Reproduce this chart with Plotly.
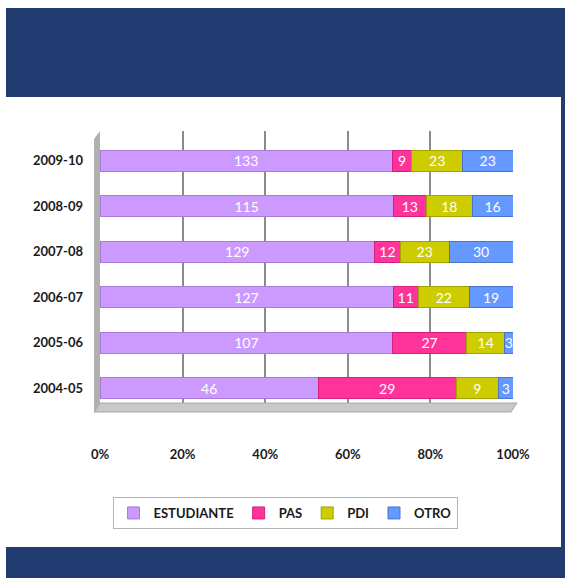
import plotly.graph_objects as go

years = ["2004-05", "2005-06", "2006-07", "2007-08", "2008-09", "2009-10"]
estudiante = [46, 107, 127, 129, 115, 133]
pas = [29, 27, 11, 12, 13, 9]
pdi = [9, 14, 22, 23, 18, 23]
otro = [3, 3, 19, 30, 16, 23]
series_names = ["ESTUDIANTE", "PAS", "PDI", "OTRO"]
x_ticks = [0, 20, 40, 60, 80, 100]
x_tick_labels = ["0%", "20%", "40%", "60%", "80%", "100%"]

colors = ["#cc99ff", "#ff3399", "#cccc00", "#6699ff"]
edge = ["#a97ad6", "#d4207c", "#a3a300", "#4a74cc"]
FONT = "Lato, Roboto, sans-serif"

fig = go.Figure()
for name, vals, c, e in zip(series_names, [estudiante, pas, pdi, otro], colors, edge):
    fig.add_trace(go.Bar(
        y=years, x=vals, name=name, orientation="h",
        marker=dict(color=c, line=dict(color=e, width=1)),
        text=[str(v) for v in vals], textposition="inside",
        insidetextanchor="middle", textangle=0, constraintext="none",
        textfont=dict(color="white", size=14, family=FONT),
        width=0.46,
    ))

W, H = 565, 578
BLUE = "#223c71"
PL, PR, PT, PB = 100, 513, 131, 411  # plot area in pixels


def px_x(p):
    return (p - PL) / float(PR - PL)


def px_y(p):
    return (PB - p) / float(PB - PT)


shapes = [
    dict(type="rect", xref="paper", yref="paper", layer="below",
         x0=px_x(6), x1=px_x(570), y0=px_y(8), y1=px_y(580),
         fillcolor=BLUE, line=dict(width=0)),
    dict(type="rect", xref="paper", yref="paper", layer="below",
         x0=px_x(6), x1=px_x(561), y0=px_y(97), y1=px_y(547),
         fillcolor="white", line=dict(width=0)),
    # left side wall
    dict(type="path", xref="paper", yref="paper", layer="below",
         path=f"M {px_x(94)},{px_y(139)} L {px_x(100)},{px_y(131)} L {px_x(100)},{px_y(405)} L {px_x(94)},{px_y(412)} Z",
         fillcolor="#b0b0b0", line=dict(width=0)),
    # floor
    dict(type="path", xref="paper", yref="paper", layer="above",
         path=f"M {px_x(94)},{px_y(412)} L {px_x(100)},{px_y(403)} L {px_x(517)},{px_y(403)} L {px_x(511)},{px_y(412)} Z",
         fillcolor="#c8c8c8", line=dict(color="#a8a8a8", width=1)),
]

fig.update_layout(
    width=W, height=H, autosize=False,
    margin=dict(l=PL, r=W - PR, t=PT, b=H - PB, pad=0),
    paper_bgcolor="white", plot_bgcolor="#d9d9d9",
    barmode="stack", barnorm="percent",
    shapes=shapes,
    font=dict(family=FONT, color="#1a1a1a"),
    showlegend=True,
    legend=dict(orientation="h", xref="container", yref="container",
                x=285 / W, y=1 - 513 / H, xanchor="center", yanchor="middle",
                bgcolor="white", bordercolor="#b5b5b5", borderwidth=1,
                font=dict(size=13, family=FONT, color="#1a1a1a", weight="bold"),
                itemwidth=30, traceorder="normal"),
    xaxis=dict(range=[0, 100], tickvals=x_ticks, ticktext=x_tick_labels,
               showgrid=True, gridcolor="#8c8c8c", gridwidth=1.5,
               zeroline=False, showline=False, ticks="",
               ticklabelstandoff=34,
               tickfont=dict(size=13, family=FONT, color="#1a1a1a", weight="bold")),
    yaxis=dict(type="category", categoryorder="array", categoryarray=years,
               range=[-0.5, 5.65], showgrid=False, zeroline=False,
               ticks="", ticklabelstandoff=16,
               tickfont=dict(size=13, family=FONT, color="#1a1a1a", weight="bold")),
)

fig.write_html("out.html", config={"displayModeBar": False},
               post_script="document.body.style.margin='0';")
